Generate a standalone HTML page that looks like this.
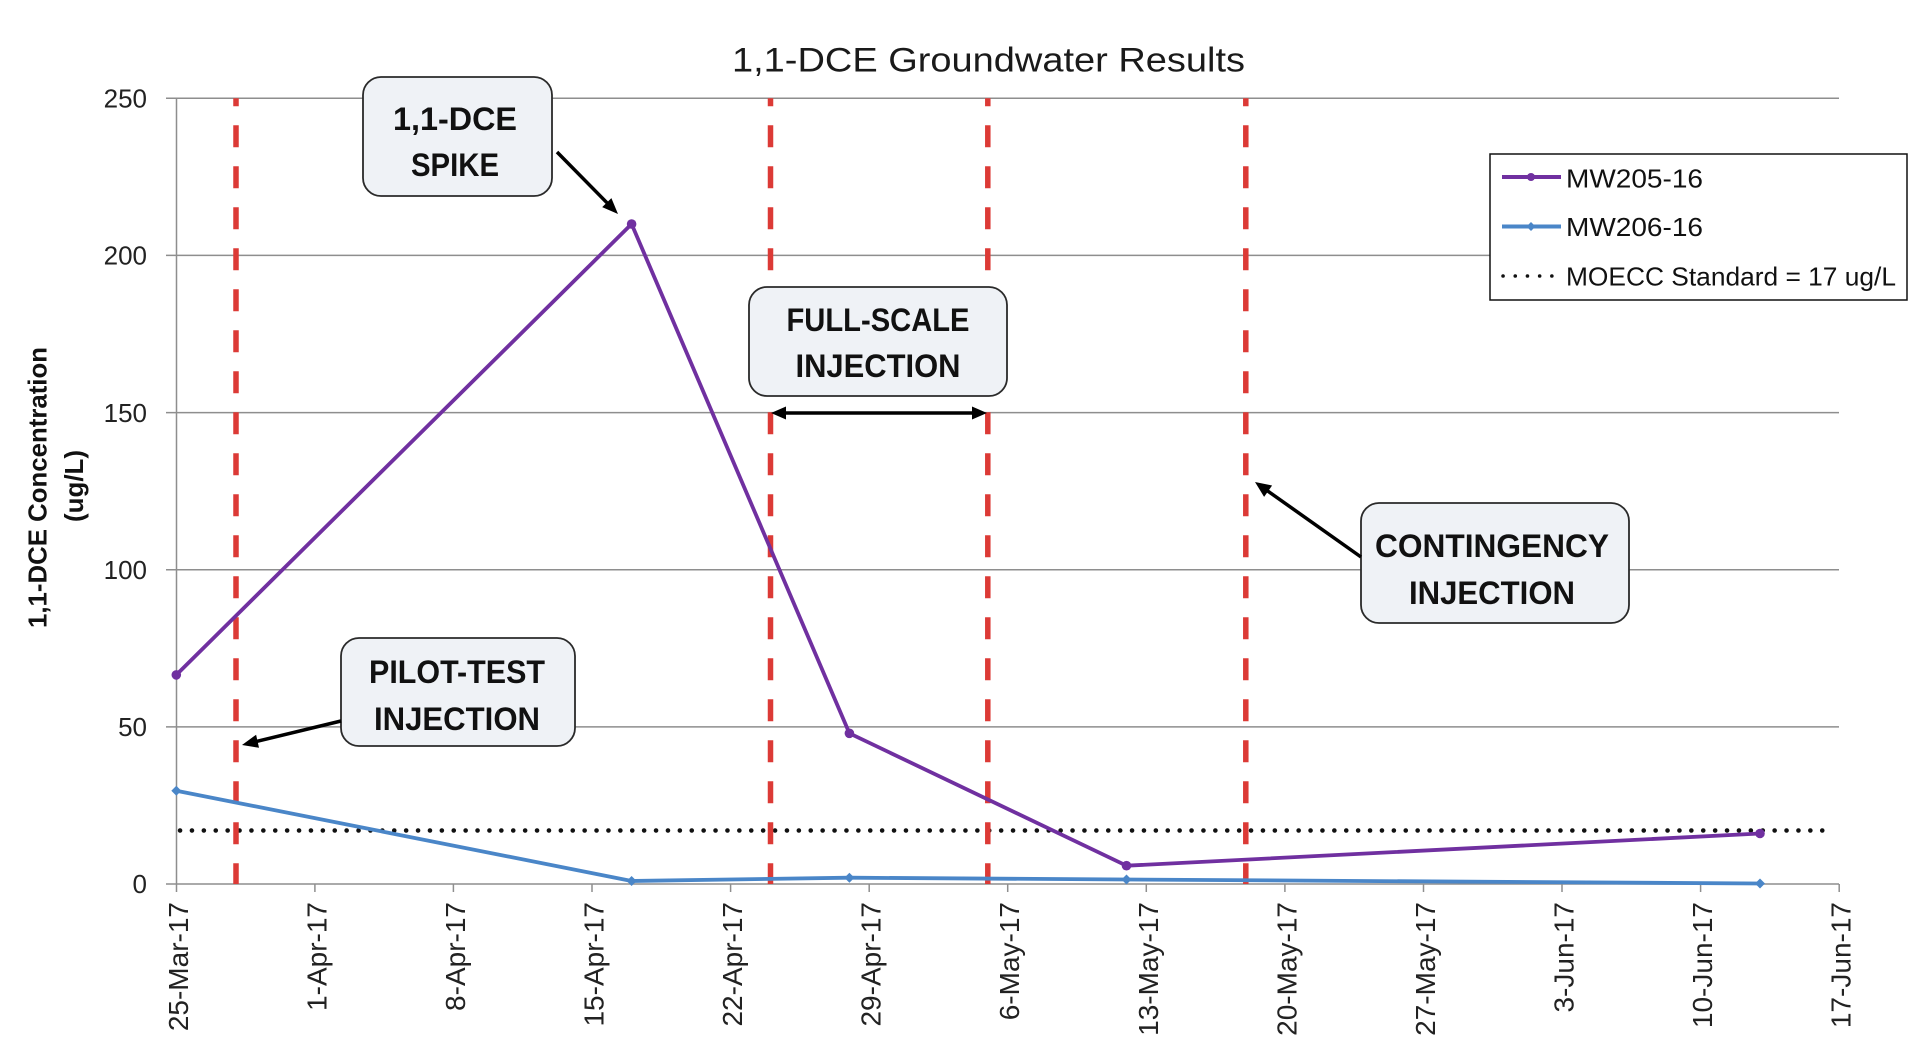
<!DOCTYPE html>
<html>
<head>
<meta charset="utf-8">
<style>
html,body{margin:0;padding:0;background:#fff;}
svg{display:block;}
text{font-family:"Liberation Sans",Arial,sans-serif;}
</style>
</head>
<body>
<svg width="1920" height="1058" viewBox="0 0 1920 1058" xmlns="http://www.w3.org/2000/svg">
<rect x="0" y="0" width="1920" height="1058" fill="#fff"/>

<!-- Title -->
<text x="732" y="71.5" font-size="34" fill="#1a1a1a" textLength="513" lengthAdjust="spacingAndGlyphs">1,1-DCE Groundwater Results</text>

<!-- Gridlines -->
<g stroke="#8e8e8e" stroke-width="1.5">
<line x1="166" y1="98.3" x2="1839" y2="98.3"/>
<line x1="166" y1="255.4" x2="1839" y2="255.4"/>
<line x1="166" y1="412.6" x2="1839" y2="412.6"/>
<line x1="166" y1="569.7" x2="1839" y2="569.7"/>
<line x1="166" y1="726.9" x2="1839" y2="726.9"/>
<line x1="166" y1="884" x2="1839" y2="884"/>
<line x1="176.5" y1="98.3" x2="176.5" y2="892"/>
</g>
<!-- X ticks -->
<g stroke="#8e8e8e" stroke-width="1.5">
<line x1="314.9" y1="884" x2="314.9" y2="892"/>
<line x1="453.4" y1="884" x2="453.4" y2="892"/>
<line x1="592" y1="884" x2="592" y2="892"/>
<line x1="730.6" y1="884" x2="730.6" y2="892"/>
<line x1="869.2" y1="884" x2="869.2" y2="892"/>
<line x1="1007.7" y1="884" x2="1007.7" y2="892"/>
<line x1="1146.3" y1="884" x2="1146.3" y2="892"/>
<line x1="1284.9" y1="884" x2="1284.9" y2="892"/>
<line x1="1423.5" y1="884" x2="1423.5" y2="892"/>
<line x1="1562" y1="884" x2="1562" y2="892"/>
<line x1="1700.6" y1="884" x2="1700.6" y2="892"/>
<line x1="1839.2" y1="884" x2="1839.2" y2="892"/>
</g>

<!-- Y tick labels -->
<g font-size="26" fill="#222" text-anchor="end">
<text x="147" y="107.5">250</text>
<text x="147" y="264.6">200</text>
<text x="147" y="421.8">150</text>
<text x="147" y="578.9">100</text>
<text x="147" y="736.1">50</text>
<text x="147" y="893.2">0</text>
</g>

<!-- X tick labels -->
<g font-size="28" fill="#222" text-anchor="end">
<text transform="translate(188,902) rotate(-90)">25-Mar-17</text>
<text transform="translate(326.4,902) rotate(-90)">1-Apr-17</text>
<text transform="translate(464.9,902) rotate(-90)">8-Apr-17</text>
<text transform="translate(603.5,902) rotate(-90)">15-Apr-17</text>
<text transform="translate(742.1,902) rotate(-90)">22-Apr-17</text>
<text transform="translate(880.7,902) rotate(-90)">29-Apr-17</text>
<text transform="translate(1019.2,902) rotate(-90)">6-May-17</text>
<text transform="translate(1157.8,902) rotate(-90)">13-May-17</text>
<text transform="translate(1296.4,902) rotate(-90)">20-May-17</text>
<text transform="translate(1435,902) rotate(-90)">27-May-17</text>
<text transform="translate(1573.5,902) rotate(-90)">3-Jun-17</text>
<text transform="translate(1712.1,902) rotate(-90)">10-Jun-17</text>
<text transform="translate(1850.7,902) rotate(-90)">17-Jun-17</text>
</g>

<!-- Y axis title -->
<g font-weight="bold" fill="#111" text-anchor="middle" font-size="26">
<text transform="translate(46.5,487.5) rotate(-90)" textLength="281" lengthAdjust="spacingAndGlyphs">1,1-DCE Concentration</text>
<text transform="translate(83,486) rotate(-90)" textLength="72" lengthAdjust="spacingAndGlyphs">(ug/L)</text>
</g>

<!-- MOECC standard dotted -->
<line x1="180" y1="830.5" x2="1834" y2="830.5" stroke="#111" stroke-width="4.5" stroke-linecap="round" stroke-dasharray="0.1 11.8"/>

<!-- Red dashed lines -->
<g stroke="#dc3a36" stroke-width="5.5" stroke-dasharray="22 19" stroke-dashoffset="14">
<line x1="236" y1="98.3" x2="236" y2="884"/>
<line x1="770.5" y1="98.3" x2="770.5" y2="884"/>
<line x1="987.8" y1="98.3" x2="987.8" y2="884"/>
<line x1="1245.8" y1="98.3" x2="1245.8" y2="884"/>
</g>

<!-- MW206-16 (blue) -->
<polyline points="176.3,790.7 631.6,881 849.4,877.7 1126.5,879.5 1760,883.5" fill="none" stroke="#4a86c8" stroke-width="3.8" stroke-linejoin="round"/>
<g fill="#4a86c8">
<polygon points="176.3,785.7 181.3,790.7 176.3,795.7 171.3,790.7"/>
<polygon points="631.6,876 636.6,881 631.6,886 626.6,881"/>
<polygon points="849.4,872.7 854.4,877.7 849.4,882.7 844.4,877.7"/>
<polygon points="1126.5,874.5 1131.5,879.5 1126.5,884.5 1121.5,879.5"/>
<polygon points="1760,878.5 1765,883.5 1760,888.5 1755,883.5"/>
</g>

<!-- MW205-16 (purple) -->
<polyline points="176.3,674.9 631.6,224 849.4,733.3 1126.5,865.7 1760,833.5" fill="none" stroke="#7030a0" stroke-width="3.8" stroke-linejoin="round"/>
<g fill="#7030a0">
<circle cx="176.3" cy="674.9" r="4.8"/>
<circle cx="631.6" cy="224" r="4.8"/>
<circle cx="849.4" cy="733.3" r="4.8"/>
<circle cx="1126.5" cy="865.7" r="4.8"/>
<circle cx="1760" cy="833.5" r="4.8"/>
</g>

<!-- Annotation boxes -->
<g fill="#eff2f6" stroke="#2a2a2a" stroke-width="1.8">
<rect x="363" y="77" width="189" height="119" rx="18" ry="18"/>
<rect x="749" y="287" width="258" height="109" rx="18" ry="18"/>
<rect x="341" y="638" width="234" height="108" rx="18" ry="18"/>
<rect x="1361" y="503" width="268" height="120" rx="18" ry="18"/>
</g>
<g font-weight="bold" font-size="32" fill="#111" text-anchor="middle">
<text x="455" y="130" textLength="124" lengthAdjust="spacingAndGlyphs">1,1-DCE</text>
<text x="455" y="176" textLength="88" lengthAdjust="spacingAndGlyphs">SPIKE</text>
<text x="878" y="331" textLength="183" lengthAdjust="spacingAndGlyphs">FULL-SCALE</text>
<text x="878" y="377" textLength="165" lengthAdjust="spacingAndGlyphs">INJECTION</text>
<text x="457" y="683" textLength="176" lengthAdjust="spacingAndGlyphs">PILOT-TEST</text>
<text x="457" y="730" textLength="166" lengthAdjust="spacingAndGlyphs">INJECTION</text>
<text x="1492" y="557" textLength="234" lengthAdjust="spacingAndGlyphs">CONTINGENCY</text>
<text x="1492" y="604" textLength="166" lengthAdjust="spacingAndGlyphs">INJECTION</text>
</g>

<!-- Arrows -->
<g stroke="#000" stroke-width="3.5" fill="none">
<line x1="557" y1="152" x2="607.5" y2="203.3"/>
<line x1="341" y1="721" x2="256" y2="741.6"/>
<line x1="1361" y1="557" x2="1267" y2="490.5"/>
<line x1="785" y1="413" x2="973" y2="413"/>
</g>
<g fill="#000">
<polygon points="618,214 602.2,207.1 611.4,198.1"/>
<polygon points="242,745 256.1,734.7 259.0,747.8"/>
<polygon points="1255,482 1272.1,485.5 1264.1,496.9"/>
<polygon points="771,413 786,406.5 786,419.5"/>
<polygon points="987,413 972,406.5 972,419.5"/>
</g>

<!-- Legend -->
<rect x="1490" y="154" width="417" height="146" fill="#fff" stroke="#111" stroke-width="1.5"/>
<line x1="1502" y1="177" x2="1561" y2="177" stroke="#7030a0" stroke-width="4"/>
<circle cx="1531" cy="177" r="4" fill="#7030a0"/>
<line x1="1502" y1="226.5" x2="1561" y2="226.5" stroke="#4a86c8" stroke-width="4"/>
<polygon points="1531,222 1535.5,226.5 1531,231 1526.5,226.5" fill="#4a86c8"/>
<line x1="1503" y1="276" x2="1553" y2="276" stroke="#111" stroke-width="3.5" stroke-linecap="round" stroke-dasharray="0.1 12.1"/>
<g font-size="26" fill="#111">
<text x="1566" y="187.5" textLength="137" lengthAdjust="spacingAndGlyphs">MW205-16</text>
<text x="1566" y="236" textLength="137" lengthAdjust="spacingAndGlyphs">MW206-16</text>
<text x="1566" y="285.5" textLength="330" lengthAdjust="spacingAndGlyphs">MOECC Standard = 17 ug/L</text>
</g>
</svg>
</body>
</html>
